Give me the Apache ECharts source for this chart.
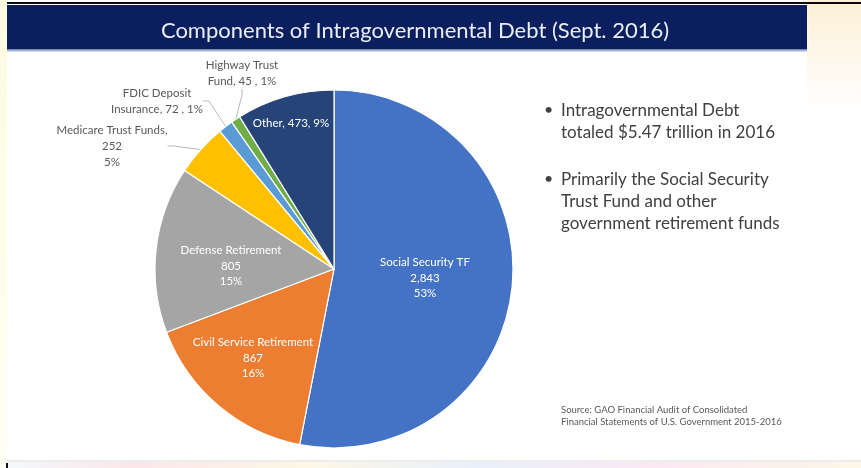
<!DOCTYPE html>
<html>
<head>
<meta charset="utf-8">
<title>Components of Intragovernmental Debt (Sept. 2016)</title>
<script src="https://cdn.jsdelivr.net/npm/echarts@6.0.0/dist/echarts.min.js"></script>
<style>
  html, body { margin: 0; padding: 0; background: #ffffff; }
  #chart { width: 861px; height: 468px; }
</style>
</head>
<body>
<div id="chart"></div>
<script>
// Holdings of intragovernmental debt, $ billions, September 2016
const categories = [
  'Social Security TF',
  'Civil Service Retirement',
  'Defense Retirement',
  'Medicare Trust Funds',
  'FDIC Deposit Insurance',
  'Highway Trust Fund',
  'Other'
];
const amounts = [2843, 867, 805, 252, 72, 45, 473];

const sliceColors = ['#4472C4', '#ED7D31', '#A5A5A5', '#FFC000', '#5B9BD5', '#70AD47', '#264478'];

const bulletLines = [
  ['Intragovernmental Debt', 'totaled $5.47 trillion in 2016'],
  ['Primarily the Social Security', 'Trust Fund and other', 'government retirement funds']
];
const sourceLines = [
  'Source: GAO Financial Audit of Consolidated',
  'Financial Statements of U.S. Government 2015-2016'
];

// How each slice is labelled: text layout, inside/outside, and where the label block sits
const labelPlan = [
  { kind: 'stack',    inside: true,  at: [425, 278] },
  { kind: 'stack',    inside: true,  at: [253, 358] },
  { kind: 'stack',    inside: true,  at: [231, 266] },
  { kind: 'medicare', inside: false, at: [112, 146] },
  { kind: 'wrap2',    inside: false, at: [157, 101], first: 'FDIC Deposit', rest: 'Insurance' },
  { kind: 'wrap2',    inside: false, at: [242, 73],  first: 'Highway Trust', rest: 'Fund' },
  { kind: 'inline',   inside: true,  at: [291, 123] }
];

const fmtNum = v => v.toLocaleString('en-US');

function labelText(p) {
  const plan = labelPlan[p.dataIndex];
  const v = fmtNum(p.value);
  const pct = Math.round(p.percent) + '%';
  switch (plan.kind) {
    case 'stack':    return p.name + '\n' + v + '\n' + pct;
    case 'medicare': return p.name + ',\n' + v + '\n' + pct;
    case 'wrap2':    return plan.first + '\n' + plan.rest + ', ' + v + ' , ' + pct;
    default:         return p.name + ', ' + v + ', ' + pct;
  }
}

const pieData = categories.map((name, i) => {
  const plan = labelPlan[i];
  return {
    name: name,
    value: amounts[i],
    itemStyle: { color: sliceColors[i] },
    label: plan.inside
      ? { position: 'inside', color: '#ffffff', fontSize: 11.5, lineHeight: 15.5 }
      : { position: 'outside', color: '#595959', fontSize: 11.5, lineHeight: 16 },
    labelLine: { show: !plan.inside }
  };
});

const FONT = 'Lato, "Open Sans", "Noto Sans", sans-serif';

const graphics = [
  // page backdrop tints around the slide
  { type: 'rect', left: 0, top: 0, silent: true, z: -10,
    shape: { width: 7, height: 468 },
    style: { fill: new echarts.graphic.LinearGradient(0, 0, 0, 1, [
      { offset: 0, color: '#fdfbe0' }, { offset: 1, color: '#fffff6' }]) } },
  { type: 'rect', left: 807, top: 0, silent: true, z: -10,
    shape: { width: 54, height: 110 },
    style: { fill: new echarts.graphic.LinearGradient(0, 0, 0, 1, [
      { offset: 0, color: '#fdf0d6' }, { offset: 0.5, color: '#fef7ea' }, { offset: 1, color: '#ffffff' }]) } },
  // top frame line
  { type: 'rect', left: 7, top: 2, silent: true, z: -5,
    shape: { width: 854, height: 2 }, style: { fill: '#0a0a0a' } },
  // title banner
  { type: 'rect', left: 7, top: 5, silent: true, z: -5,
    shape: { width: 800, height: 45 }, style: { fill: '#0b1f5e' } },
  { type: 'rect', left: 7, top: 49, silent: true, z: -5,
    shape: { width: 800, height: 3 },
    style: { fill: new echarts.graphic.LinearGradient(0, 0, 0, 1, [
      { offset: 0, color: '#5d74a8' }, { offset: 1, color: '#eef3fb' }]) } },
  // bottom edge of the slide
  { type: 'rect', left: 7, top: 460, silent: true, z: -5,
    shape: { width: 854, height: 2 }, style: { fill: '#ececec' } },
  { type: 'rect', left: 7, top: 462, silent: true, z: -5,
    shape: { width: 854, height: 6 },
    style: { fill: new echarts.graphic.LinearGradient(0, 0, 1, 0, [
      { offset: 0, color: '#f4f8fb' }, { offset: 0.15, color: '#fbe6ea' },
      { offset: 0.35, color: '#fdf7e4' }, { offset: 0.55, color: '#e8f0fb' },
      { offset: 0.75, color: '#fbe8f3' }, { offset: 1, color: '#fdf6e6' }]) } },
  { type: 'rect', left: 6, top: 463, silent: true, z: -4,
    shape: { width: 2, height: 5 }, style: { fill: '#111111' } }
];

// bullet points on the right
let y = 112;
bulletLines.forEach(group => {
  graphics.push({ type: 'text', left: 544, top: y - 10, silent: true,
    style: { text: '\u2022', font: '16px ' + FONT, fill: '#404040' } });
  group.forEach(line => {
    graphics.push({ type: 'text', left: 561, top: y - 10, silent: true,
      style: { text: line, font: '17px ' + FONT, fill: '#404040' } });
    y += 22;
  });
  y += 25;
});

// source note
sourceLines.forEach((line, i) => {
  graphics.push({ type: 'text', left: 561, top: 405 + i * 12, silent: true,
    style: { text: line, font: '9.5px ' + FONT, fill: '#595959' } });
});

const chart = echarts.init(document.getElementById('chart'), null, { renderer: 'canvas' });
chart.setOption({
  backgroundColor: '#ffffff',
  animation: false,
  title: {
    text: 'Components of Intragovernmental Debt (Sept. 2016)',
    left: 410, top: 15, textAlign: 'center',
    textStyle: { color: '#e9edf6', fontSize: 22, fontWeight: 'normal', fontFamily: FONT }
  },
  graphic: graphics,
  series: [{
    type: 'pie',
    center: [334, 269],
    radius: 179,
    startAngle: 90,
    clockwise: true,
    percentPrecision: 0,
    avoidLabelOverlap: false,
    itemStyle: { borderColor: '#ffffff', borderWidth: 1.2 },
    label: { formatter: labelText, fontFamily: FONT, align: 'center' },
    labelLine: { length: 8, length2: 6, lineStyle: { color: '#a6a6a6', width: 0.8 } },
    labelLayout: params => {
      const at = labelPlan[params.dataIndex].at;
      return { x: at[0], y: at[1], align: 'center', verticalAlign: 'middle' };
    },
    data: pieData
  }]
});
</script>
</body>
</html>
